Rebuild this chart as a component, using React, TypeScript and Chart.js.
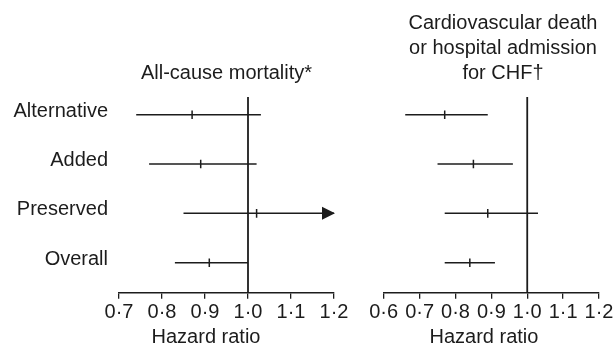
import React, { useEffect, useRef } from 'react';
import { Chart, registerables } from 'chart.js';

Chart.register(...registerables);

// ---------- data ----------
const rowLabels = ['Alternative', 'Added', 'Preserved', 'Overall'];

const mortalityHR = [0.87, 0.89, 1.02, 0.91];
const mortalityLower = [0.74, 0.77, 0.85, 0.83];
const mortalityUpper = [1.03, 1.02, 1.22, 1.0];
const mortalityTicks = ['0·7', '0·8', '0·9', '1·0', '1·1', '1·2'];
const mortalityTitle = ['All-cause mortality*'];

const cvHR = [0.77, 0.85, 0.89, 0.84];
const cvLower = [0.66, 0.75, 0.77, 0.77];
const cvUpper = [0.89, 0.96, 1.03, 0.91];
const cvTicks = ['0·6', '0·7', '0·8', '0·9', '1·0', '1·1', '1·2'];
const cvTitle = ['Cardiovascular death', 'or hospital admission', 'for CHF†'];

const axisTitle = 'Hazard ratio';
const referenceHR = 1.0;

// ---------- styling ----------
const INK = '#1c1c1c';
const FONT = "'Liberation Sans', Arial, Helvetica, sans-serif";
const Y_MIN = 0.392;
const Y_MAX = 4.359;
const H = 345;

Chart.defaults.font.family = FONT;
Chart.defaults.font.size = 20;
Chart.defaults.color = INK;

const rowValue = (i: number) => rowLabels.length - i;
const tickValue = (label: string) => parseFloat(label.replace('·', '.'));

type PanelSpec = {
  hr: number[];
  lower: number[];
  upper: number[];
  ticks: string[];
  title: string[];
  showRowLabels: boolean;
  leftWidth: number;
  rightWidth: number;
  titleFullSize: boolean;
  titlePadding: { top: number; bottom: number };
  axisTitleDx: number;
};

function makePlugin(arrowRows: number[], dx: number) {
  return {
    id: 'forestExtras',
    afterDatasetsDraw(chart: any) {
      const { ctx, scales } = chart;
      const x = scales.x;
      const y = scales.y;
      ctx.save();
      ctx.fillStyle = INK;
      arrowRows.forEach((row) => {
        const tip = x.getPixelForValue(x.max) + 1;
        const yy = y.getPixelForValue(row);
        ctx.beginPath();
        ctx.moveTo(tip, yy);
        ctx.lineTo(tip - 13, yy - 6.5);
        ctx.lineTo(tip - 13, yy + 6.5);
        ctx.closePath();
        ctx.fill();
      });
      ctx.font = `20px ${FONT}`;
      ctx.textAlign = 'center';
      ctx.textBaseline = 'middle';
      ctx.fillText(axisTitle, (x.left + x.right) / 2 + dx, x.bottom - 8);
      ctx.restore();
    },
  };
}

function buildConfig(spec: PanelSpec): any {
  const values = spec.ticks.map(tickValue);
  const xMin = values[0];
  const xMax = values[values.length - 1];
  const datasets: any[] = [];
  spec.lower.forEach((lo, i) => {
    datasets.push({
      data: [
        { x: lo, y: rowValue(i) },
        { x: Math.min(spec.upper[i], xMax), y: rowValue(i) },
      ],
      showLine: true,
      borderColor: INK,
      borderWidth: 1.5,
      pointRadius: 0,
    });
  });
  datasets.push({
    data: [
      { x: referenceHR, y: Y_MIN },
      { x: referenceHR, y: Y_MAX },
    ],
    showLine: true,
    borderColor: INK,
    borderWidth: 1.8,
    pointRadius: 0,
    clip: false,
  });
  datasets.push({
    data: spec.hr.map((v, i) => ({ x: v, y: rowValue(i) })),
    showLine: false,
    pointStyle: 'line',
    rotation: 90,
    pointRadius: 4.3,
    borderColor: INK,
    backgroundColor: INK,
    borderWidth: 1.5,
  });
  const arrowRows = spec.upper
    .map((u, i) => (u > xMax ? rowValue(i) : null))
    .filter((v) => v !== null) as number[];

  return {
    type: 'scatter',
    data: { datasets },
    plugins: [makePlugin(arrowRows, spec.axisTitleDx)],
    options: {
      responsive: false,
      animation: false,
      devicePixelRatio: 1,
      events: [],
      layout: { padding: 0 },
      plugins: {
        legend: { display: false },
        tooltip: { enabled: false },
        title: {
          display: true,
          text: spec.title,
          fullSize: spec.titleFullSize,
          color: INK,
          font: { size: 20, lineHeight: 1.25, weight: 'normal' },
          padding: spec.titlePadding,
        },
      },
      scales: {
        x: {
          type: 'linear',
          min: xMin,
          max: xMax,
          afterBuildTicks: (s: any) => {
            s.ticks = values.map((v) => ({ value: v }));
          },
          afterFit: (s: any) => {
            s.height = 52.3;
          },
          ticks: {
            autoSkip: false,
            maxRotation: 0,
            minRotation: 0,
            padding: 3.3,
            color: INK,
            font: { size: 20, lineHeight: 1 },
            callback: (_v: any, idx: number) => spec.ticks[idx],
          },
          grid: {
            display: true,
            drawOnChartArea: false,
            drawTicks: true,
            tickLength: 6,
            color: INK,
            lineWidth: 1.3,
          },
          border: { display: true, color: INK, width: 1.5 },
        },
        y: {
          type: 'linear',
          position: 'left',
          min: Y_MIN,
          max: Y_MAX,
          display: spec.showRowLabels,
          afterBuildTicks: (s: any) => {
            s.ticks = rowLabels.map((_, i) => ({ value: rowValue(i) }));
          },
          afterFit: (s: any) => {
            s.width = spec.leftWidth;
          },
          ticks: {
            padding: 11,
            labelOffset: -3.5,
            color: INK,
            font: { size: 20 },
            callback: (v: any) => rowLabels[rowLabels.length - Math.round(v)],
          },
          grid: { display: false, drawTicks: false },
          border: { display: false },
        },
        yRight: {
          type: 'linear',
          position: 'right',
          min: Y_MIN,
          max: Y_MAX,
          display: false,
          afterFit: (s: any) => {
            s.width = spec.rightWidth;
          },
          grid: { display: false, drawTicks: false },
          border: { display: false },
        },
      },
    },
  };
}

const leftSpec: PanelSpec = {
  hr: mortalityHR,
  lower: mortalityLower,
  upper: mortalityUpper,
  ticks: mortalityTicks,
  title: mortalityTitle,
  showRowLabels: true,
  leftWidth: 119,
  rightWidth: 26,
  titleFullSize: false,
  titlePadding: { top: 61, bottom: 11 },
  axisTitleDx: -20.5,
};

const rightSpec: PanelSpec = {
  hr: cvHR,
  lower: cvLower,
  upper: cvUpper,
  ticks: cvTicks,
  title: cvTitle,
  showRowLabels: false,
  leftWidth: 19.7,
  rightWidth: 43,
  titleFullSize: true,
  titlePadding: { top: 11, bottom: 11 },
  axisTitleDx: -7.4,
};

function Panel({ spec, left, width }: { spec: PanelSpec; left: number; width: number }) {
  const ref = useRef<HTMLCanvasElement>(null);
  useEffect(() => {
    const chart = new Chart(ref.current as HTMLCanvasElement, buildConfig(spec));
    return () => chart.destroy();
  }, [spec]);
  return (
    <canvas
      ref={ref}
      width={width}
      height={H}
      style={{ position: 'absolute', left, top: 0, width, height: H }}
    />
  );
}

export default function App() {
  return (
    <div
      style={{
        position: 'absolute',
        left: 0,
        top: 0,
        width: 616,
        height: H,
        overflow: 'hidden',
        background: '#ffffff',
      }}
    >
      <Panel spec={leftSpec} left={0} width={360} />
      <Panel spec={rightSpec} left={364} width={278} />
    </div>
  );
}
